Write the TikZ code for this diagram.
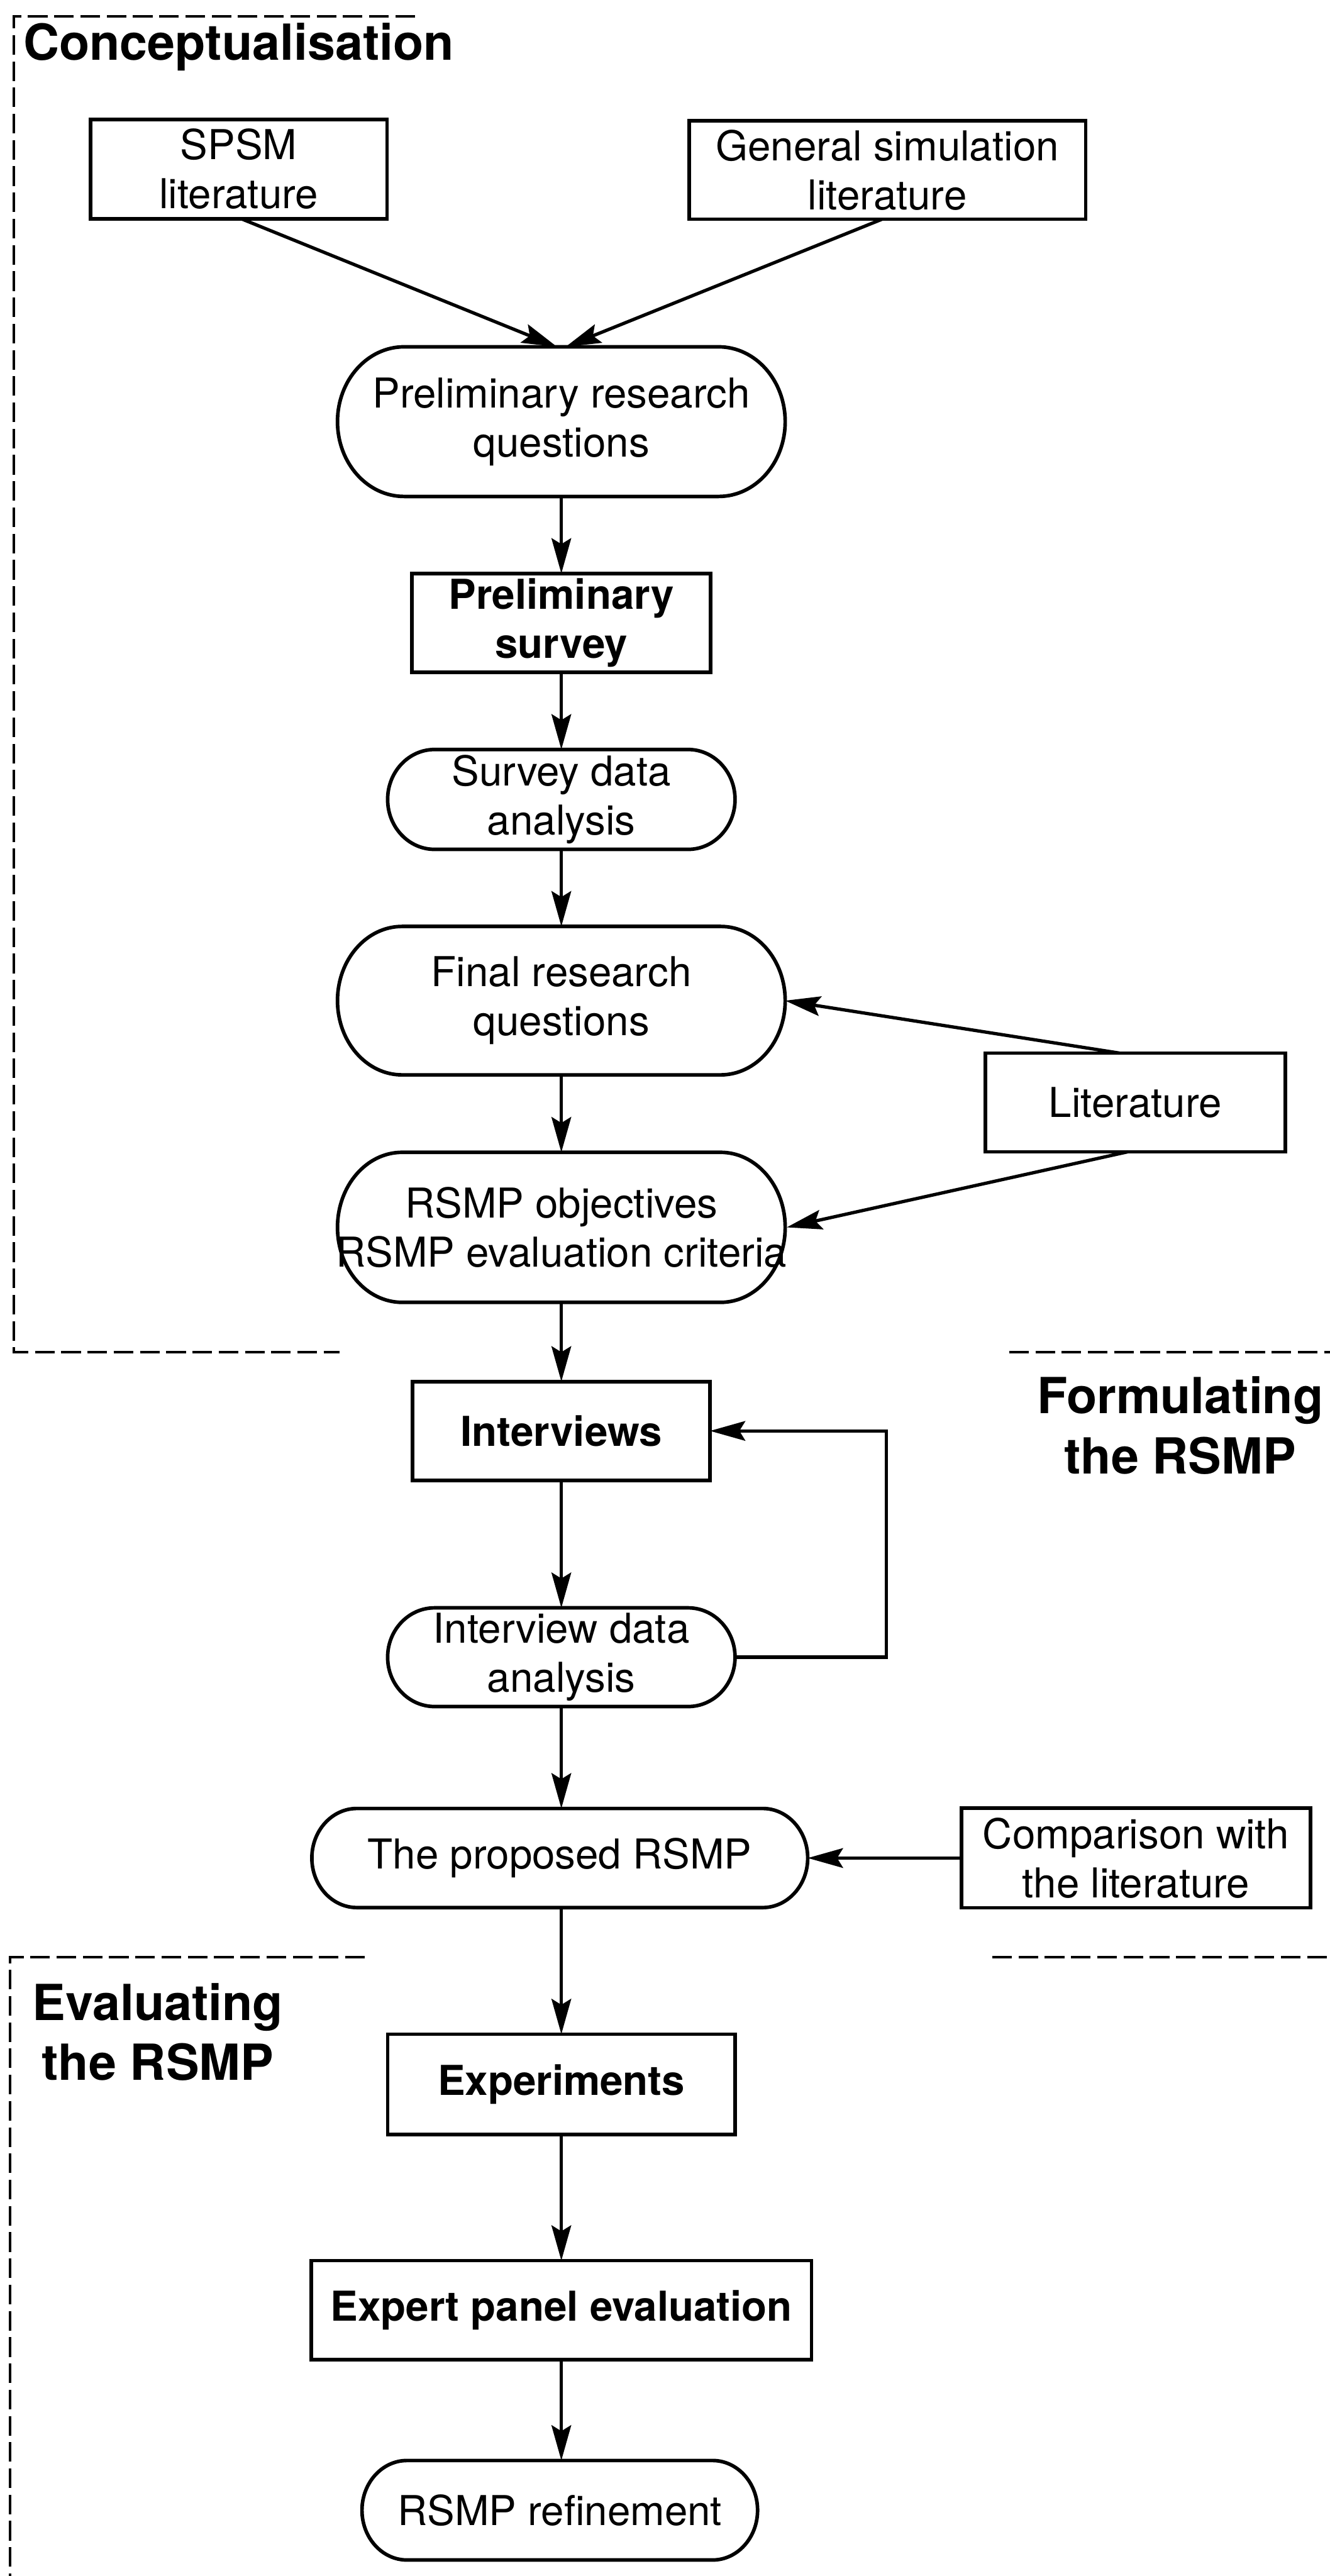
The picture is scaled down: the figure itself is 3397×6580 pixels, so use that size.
\documentclass[tikz,border=0pt]{standalone}
\usepackage{fontspec}
\setmainfont{TeX Gyre Heros}
\usetikzlibrary{arrows.meta,calc}

% stadium-shaped step: name, position, half width, half height, depth of the rounded ends, text
\newcommand\stadiumnode[6]{%
  \node[txt, minimum width={2*#3cm}, minimum height={2*#4cm}] (#1) at (#2) {#6};
  \draw[outline] ([shift={({-#3cm+#5cm},#4cm)}]#1.center) -- ([shift={({#3cm-#5cm},#4cm)}]#1.center)
    arc[start angle=90, end angle=-90, x radius=#5cm, y radius=#4cm]
    -- ([shift={({-#3cm+#5cm},-#4cm)}]#1.center)
    arc[start angle=270, end angle=90, x radius=#5cm, y radius=#4cm] -- cycle;
}

\begin{document}
\begin{tikzpicture}[x=0.01cm, y=-0.01cm,
  every node/.style={inner sep=0pt, outer sep=0pt},
  txt/.style={font=\fontsize{29.9pt}{35.6pt}\selectfont, align=center},
  stepbox/.style={txt, draw, line width=2.6pt},
  boldbox/.style={stepbox, font=\fontsize{29.9pt}{35.6pt}\selectfont\bfseries},
  outline/.style={line width=2.6pt},
  title/.style={font=\fontsize{36.1pt}{43.5pt}\selectfont\bfseries, align=center},
  flow/.style={-{Stealth[length=0.9cm, width=0.5cm, inset=0.15cm]}, line width=2.4pt},
  phase/.style={dash pattern=on 0.5cm off 0.17cm, line width=2pt}]

\useasboundingbox (0,0) rectangle (3397,6580);

% phase frames
\draw[phase] (1060,42) -- (35,42) -- (35,3454) -- (867,3454);
\draw[phase] (2578,3454) -- (3397,3454);
\draw[phase] (2535,4999) -- (3397,4999);
\draw[phase] (932,4999) -- (26,4999) -- (26,6580);

% phase titles
\node[title, anchor=base west] (concept) at (60,153) {Conceptualisation};
\node[title] (formul) at (3015,3641) {Formulating\\the RSMP};
\node[title] (evalu) at (403,5190) {Evaluating\\the RSMP};

% conceptualisation
\node[stepbox, minimum width=7.57cm, minimum height=2.54cm] (spsm) at (610,432) {SPSM\\literature};
\node[stepbox, minimum width=10.12cm, minimum height=2.52cm] (gsim) at (2267,434) {General simulation\\literature};
\stadiumnode{prq}{1434,1077}{5.715}{1.91}{1.7}{Preliminary research\\questions}
\node[boldbox, minimum width=7.63cm, minimum height=2.52cm] (psurv) at (1434,1591) {Preliminary\\survey};
\stadiumnode{sda}{1434,2042}{4.435}{1.275}{1.2}{Survey data\\analysis}
\stadiumnode{frq}{1434,2556}{5.715}{1.895}{1.65}{Final research\\questions}
\node[stepbox, minimum width=7.66cm, minimum height=2.52cm] (lit) at (2900,2816) {Literature};
\stadiumnode{robj}{1434,3135}{5.715}{1.915}{1.65}{RSMP objectives\\RSMP evaluation criteria}

% formulating the RSMP
\node[boldbox, minimum width=7.59cm, minimum height=2.52cm] (intv) at (1434,3655) {Interviews};
\stadiumnode{ida}{1434,4233}{4.435}{1.26}{1.2}{Interview data\\analysis}
\stadiumnode{prop}{1430,4746}{6.33}{1.265}{1.15}{The proposed RSMP}
\node[stepbox, minimum width=8.92cm, minimum height=2.54cm] (comp) at (2902,4746) {Comparison with\\the literature};

% evaluating the RSMP
\node[boldbox, minimum width=8.87cm, minimum height=2.56cm] (exper) at (1434,5324) {Experiments};
\node[boldbox, minimum width=12.77cm, minimum height=2.53cm] (expert) at (1434,5901) {Expert panel evaluation};
\stadiumnode{refine}{1430,6412}{5.05}{1.27}{1.15}{RSMP refinement}

% connectors
\draw[flow] ([xshift=0.07cm]spsm.south) -- ([xshift=-0.11cm]prq.north);
\draw[flow] ([xshift=-0.14cm]gsim.south) -- ([xshift=0.11cm]prq.north);
\draw[flow] (prq.south) -- (psurv.north);
\draw[flow] (psurv.south) -- (sda.north);
\draw[flow] (sda.south) -- (frq.north);
\draw[flow] (frq.south) -- (robj.north);
\draw[flow] ([xshift=-0.4cm]lit.north) -- (frq.east);
\draw[flow] ([xshift=-0.19cm]lit.south) -- (robj.east);
\draw[flow] (robj.south) -- (intv.north);
\draw[flow] (intv.south) -- (ida.north);
\draw[flow] (ida.east) -- ++(386,0) |- (intv.east);
\draw[flow] (ida.south) -- (ida.south |- prop.north);
\draw[flow] (comp.west) -- (prop.east);
\draw[flow] (prop.south -| exper.north) -- (exper.north);
\draw[flow] (exper.south) -- (expert.north);
\draw[flow] (expert.south) -- (expert.south |- refine.north);
\end{tikzpicture}
\end{document}
